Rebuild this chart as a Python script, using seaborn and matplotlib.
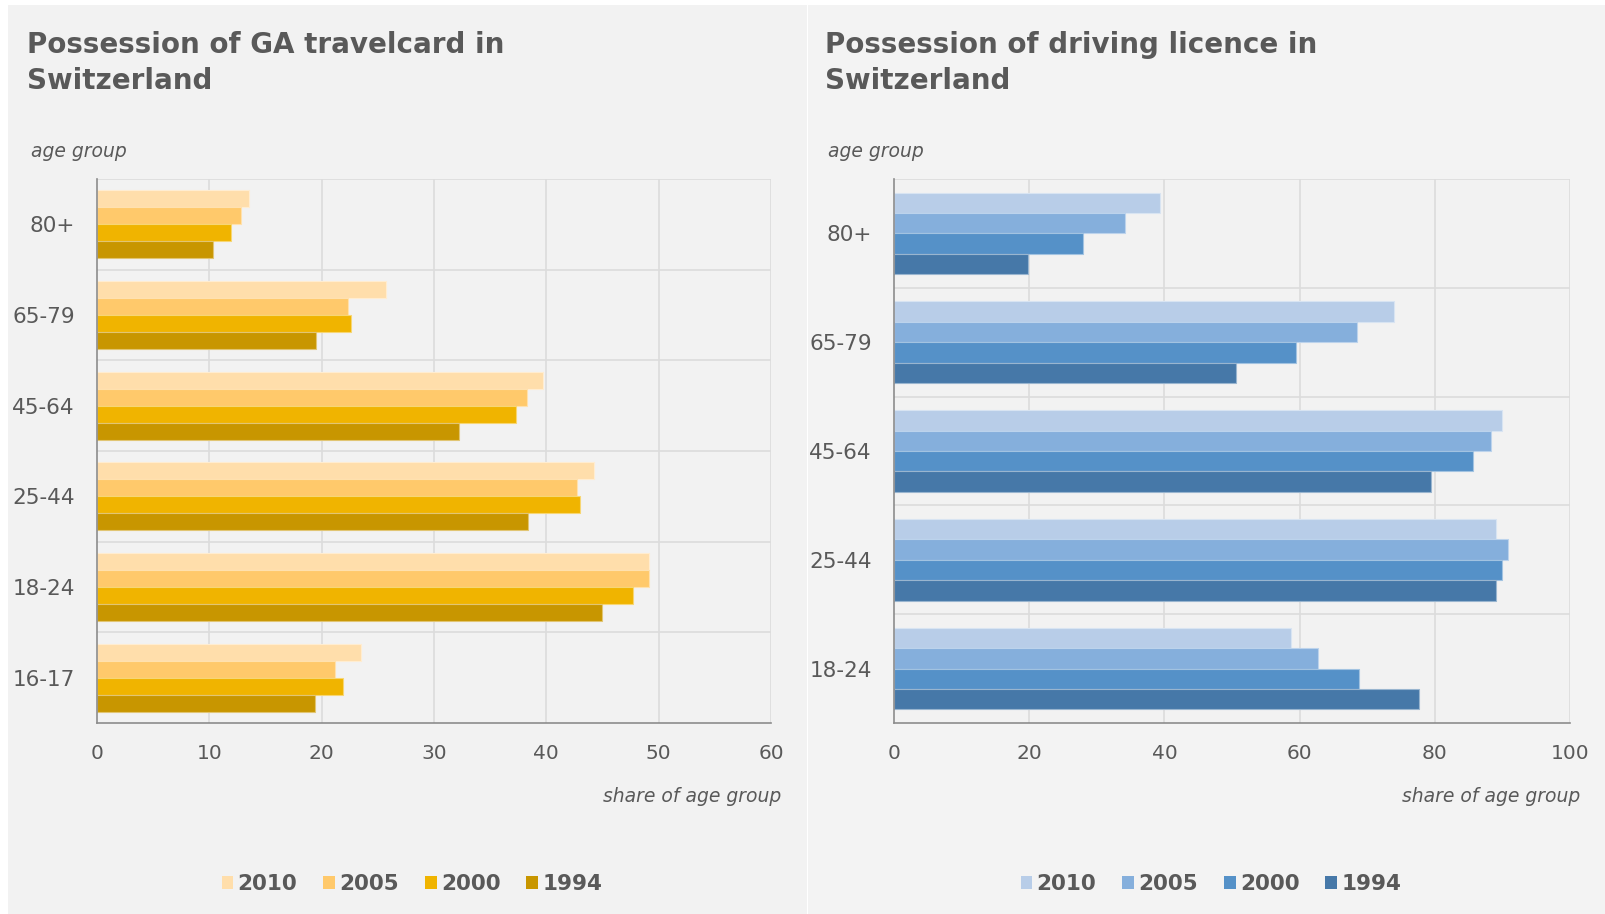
import matplotlib
matplotlib.use("Agg")
import matplotlib.pyplot as plt
import seaborn as sns
import pandas as pd
from matplotlib.patches import Rectangle, Patch
from matplotlib.colors import to_rgb

sns.set_theme(style="white")
plt.rcParams['font.family'] = ['DejaVu Sans']

# ---- data ----
years = ["2010", "2005", "2000", "1994"]

ga_ages = ["80+", "65-79", "45-64", "25-44", "18-24", "16-17"]
ga_2010 = [13.5, 25.7, 39.7, 44.2, 49.1, 23.5]
ga_2005 = [12.8, 22.3, 38.3, 42.7, 49.1, 21.2]
ga_2000 = [11.9, 22.6, 37.3, 43.0, 47.7, 21.9]
ga_1994 = [10.3, 19.5, 32.2, 38.4, 45.0, 19.4]

dl_ages = ["80+", "65-79", "45-64", "25-44", "18-24"]
dl_2010 = [39.3, 73.9, 89.9, 89.1, 58.7]
dl_2005 = [34.2, 68.5, 88.3, 90.8, 62.7]
dl_2000 = [27.9, 59.5, 85.7, 89.9, 68.8]
dl_1994 = [19.8, 50.6, 79.4, 89.0, 77.7]

ga_colors = ["#FFDEAB", "#FFC96B", "#F0B400", "#C89600"]
dl_colors = ["#B8CDE8", "#85AFDC", "#5591C8", "#4678A8"]

TXT = "#595959"
BG = "#F2F2F2"
GRID = "#DCDCDC"


def long_df(ages, series):
    rows = []
    for y, vals in zip(years, series):
        for a, v in zip(ages, vals):
            rows.append({"age": a, "year": y, "value": v})
    return pd.DataFrame(rows)


W, H = 1606, 914
fig = plt.figure(figsize=(W / 100, H / 100), dpi=100, facecolor="white")

# panel backgrounds
fig.patches.append(Rectangle((8 / W, 0), (807 - 8) / W, 1 - 5 / H, transform=fig.transFigure,
                             facecolor=BG, edgecolor="none", zorder=-10))
fig.patches.append(Rectangle((808 / W, 0), (W - 808) / W, 1 - 5 / H, transform=fig.transFigure,
                             facecolor="#F3F3F3", edgecolor="none", zorder=-10))


def make_panel(left_px, right_px, ages, series, colors, xmax, xstep, title,
               title_x, ylab_x, xlab_right, leg_cx):
    ax = fig.add_axes([left_px / W, 1 - 723 / H, (right_px - left_px) / W, (723 - 179) / H])
    ax.set_facecolor(BG)
    df = long_df(ages, series)
    sns.barplot(data=df, x="value", y="age", hue="year", order=ages, hue_order=years,
                palette=colors, orient="h", width=0.75, ax=ax, legend=False,
                linewidth=0.8, saturation=1)
    for p in ax.patches:
        fc = to_rgb(p.get_facecolor())
        p.set_edgecolor(tuple(0.55 * c + 0.45 for c in fc))
    ax.set_xlim(0, xmax)
    ax.set_ylim(len(ages) - 0.5, -0.5)
    ax.set_xticks(range(0, xmax + 1, xstep))
    ax.set_xlabel("")
    ax.set_ylabel("")
    # grid
    ax.set_axisbelow(True)
    for xv in range(xstep, xmax + 1, xstep):
        ax.axvline(xv, color=GRID, lw=1.2, zorder=0)
    for k in range(len(ages)):
        ax.axhline(k - 0.5, color=GRID, lw=1.2, zorder=0)
    for s in ["top", "right"]:
        ax.spines[s].set_visible(False)
    ax.spines["left"].set_color("#8C8C8C")
    ax.spines["bottom"].set_color("#8C8C8C")
    ax.spines["left"].set_linewidth(1.2)
    ax.spines["bottom"].set_linewidth(1.2)
    ax.tick_params(axis="both", length=0, colors=TXT)
    ax.tick_params(axis="y", labelsize=15.5, pad=16)
    ax.tick_params(axis="x", labelsize=14.5, pad=15)

    fig.text(title_x / W, 1 - 63 / H, title, fontsize=20, fontweight="bold", color=TXT,
             ha="left", va="center", linespacing=1.32)
    fig.text(ylab_x / W, 1 - 152 / H, "age group", fontsize=13.5, style="italic",
             color=TXT, ha="left", va="center")
    fig.text(xlab_right / W, 1 - 796 / H, "share of age group", fontsize=13.5,
             style="italic", color=TXT, ha="right", va="center")
    handles = [Patch(facecolor=c, edgecolor="none", label=y) for c, y in zip(colors, years)]
    fig.legend(handles=handles, loc="center", bbox_to_anchor=(leg_cx / W, 1 - 884 / H),
               ncol=4, frameon=False, handlelength=0.55, handleheight=0.6,
               handletextpad=0.2, columnspacing=1.2,
               prop={"size": 15.5, "weight": "bold"}, labelcolor=TXT)
    return ax


make_panel(97, 771, ga_ages, [ga_2010, ga_2005, ga_2000, ga_1994], ga_colors, 60, 10,
           "Possession of GA travelcard in\nSwitzerland", 27, 31, 781, 412)
make_panel(894, 1570, dl_ages, [dl_2010, dl_2005, dl_2000, dl_1994], dl_colors, 100, 20,
           "Possession of driving licence in\nSwitzerland", 825, 828, 1580, 1211)

fig.savefig("out.png", dpi=100, facecolor="white")
